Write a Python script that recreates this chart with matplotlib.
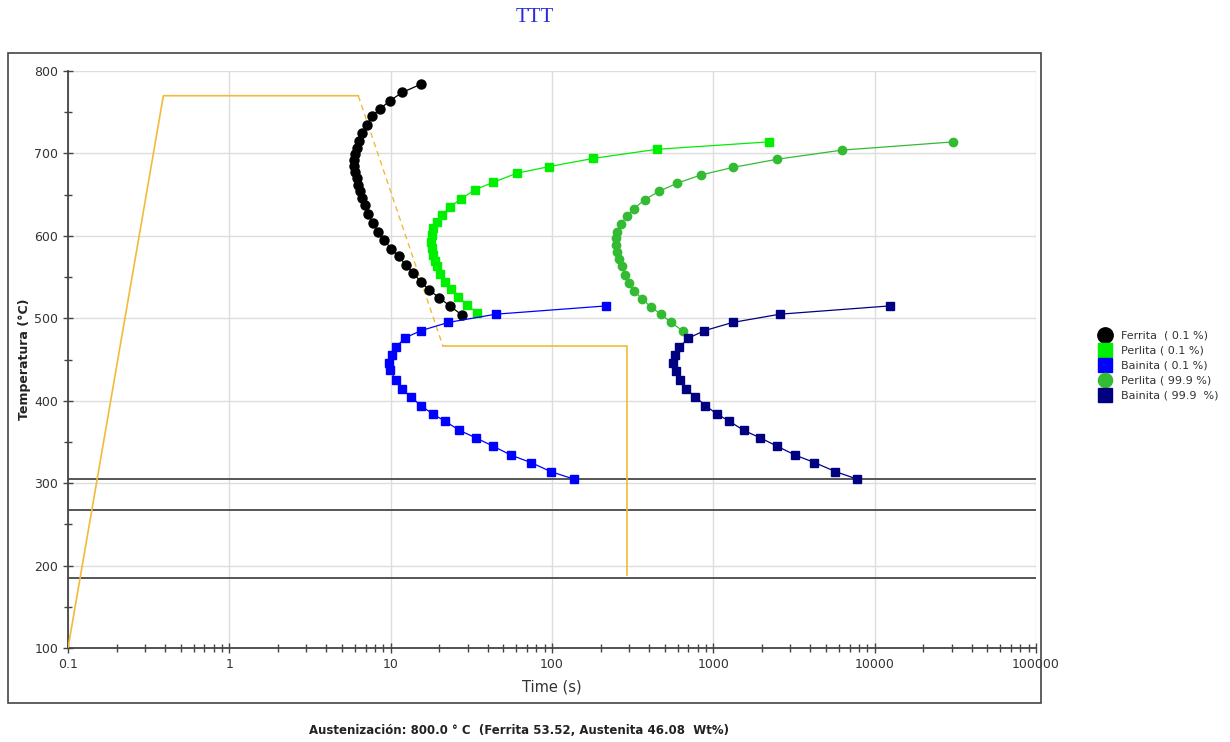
import matplotlib.pyplot as plt
from matplotlib.patches import Rectangle
from matplotlib.ticker import LogLocator, NullFormatter, MultipleLocator, FixedFormatter, FixedLocator

# --- transformation curves (time in s, temperature in C) ---
ferrita_t = [15.4, 11.8, 9.9, 8.59, 7.63, 7.11, 6.68, 6.37, 6.17, 6.02, 5.96, 5.96, 6.04, 6.17,
             6.28, 6.46, 6.68, 6.94, 7.27, 7.74, 8.39, 9.14, 10.06, 11.2, 12.4, 13.8, 15.4,
             17.4, 19.95, 23.3, 27.6]
ferrita_T = [784, 774, 764, 754, 745, 734, 725, 715, 707, 699, 692, 685, 678, 670,
             662, 654, 646, 637, 627, 615, 605, 595, 584, 575, 565, 555, 544,
             534, 525, 515, 504]

perlita01_t = [2198, 447, 180.6, 96, 60.5, 43.3, 33.4, 27.3, 23.3, 20.7, 19.3, 18.4, 18.0,
               17.8, 18.0, 18.2, 18.7, 19.3, 20.2, 21.7, 23.6, 26.3, 29.6, 34.2]
perlita01_T = [714, 705, 694, 684, 676, 665, 656, 645, 635, 625, 617, 609, 601,
               593, 585, 577, 570, 563, 554, 544, 535, 526, 516, 507]

bainita01_t = [216, 45, 22.8, 15.4, 12.2, 10.8, 10.2, 9.8, 9.9, 10.8, 11.7, 13.3, 15.4,
               18.2, 21.8, 26.7, 33.7, 43, 55.7, 74, 98.4, 136]
bainita01_T = [515, 505, 495, 485, 476, 465, 455, 446, 437, 425, 414, 405, 394,
               384, 375, 364, 355, 345, 334, 325, 314, 305]

perlita999_t = [30800, 6260, 2495, 1321, 843, 597, 461, 376, 323, 291, 267, 254, 249, 249,
                252, 261, 271, 284, 301, 323, 360, 409, 473, 547, 653]
perlita999_T = [714, 704, 693, 683, 674, 664, 654, 644, 633, 624, 614, 605, 597, 589,
                581, 572, 563, 553, 543, 533, 524, 514, 505, 495, 484]

bainita999_t = [12360, 2594, 1321, 881, 701, 617, 580, 566, 588, 622, 678, 771, 893,
                1052, 1259, 1545, 1950, 2476, 3215, 4236, 5715, 7760]
bainita999_T = [515, 505, 495, 485, 476, 465, 455, 446, 436, 425, 414, 405, 394,
                384, 375, 364, 355, 345, 334, 325, 314, 305]

# heat treatment path
path_t = [0.1, 0.39, 6.3]
path_T = [100, 770, 770]
path_dash_t = [6.3, 21.1]
path_dash_T = [770, 466]
path2_t = [21.1, 292, 292]
path2_T = [466, 466, 188]

# horizontal reference temperatures
ref_lines = [305, 268, 185]

fig = plt.figure(figsize=(12.3, 7.42), dpi=100)
ax = fig.add_axes([68 / 1230, 1 - 648 / 742, (1036 - 68) / 1230, (648 - 71) / 742])

# frame around the plot
fig.patches.append(Rectangle((8 / 1230, 1 - 703 / 742), (1041 - 8) / 1230, (703 - 53) / 742,
                             transform=fig.transFigure, fill=False, ec='#444444', lw=1.2))

for y in ref_lines:
    ax.axhline(y, color='#555555', lw=1.4, zorder=2)

yel = '#F2BA3A'
ax.plot(path_t, path_T, color=yel, lw=1.2, zorder=3)
ax.plot(path_dash_t, path_dash_T, color=yel, lw=1.0, ls=(0, (4, 3)), zorder=3)
ax.plot(path2_t, path2_T, color=yel, lw=1.2, zorder=3)

ax.plot(ferrita_t, ferrita_T, color='black', lw=0.9, marker='o', ms=6.5, zorder=5,
        label='Ferrita  ( 0.1 %)')
ax.plot(perlita01_t, perlita01_T, color='#00EE00', lw=0.9, marker='s', ms=6.2, zorder=5,
        label='Perlita ( 0.1 %)')
ax.plot(bainita01_t, bainita01_T, color='#0000FF', lw=0.9, marker='s', ms=6.2, zorder=5,
        label='Bainita ( 0.1 %)')
ax.plot(perlita999_t, perlita999_T, color='#33BB33', lw=0.9, marker='o', ms=6, zorder=5,
        label='Perlita ( 99.9 %)')
ax.plot(bainita999_t, bainita999_T, color='#000080', lw=0.9, marker='s', ms=6.2, zorder=5,
        label='Bainita ( 99.9  %)')

ax.set_xscale('log')
ax.set_xlim(0.1, 100000)
ax.set_ylim(100, 800)
ax.xaxis.set_major_locator(FixedLocator([0.1, 1, 10, 100, 1000, 10000, 100000]))
ax.xaxis.set_major_formatter(FixedFormatter(['0.1', '1', '10', '100', '1000', '10000', '100000']))
ax.xaxis.set_minor_locator(LogLocator(base=10, subs=range(2, 10)))
ax.xaxis.set_minor_formatter(NullFormatter())
ax.yaxis.set_major_locator(MultipleLocator(100))
ax.yaxis.set_minor_locator(MultipleLocator(50))

for s in ['top', 'right']:
    ax.spines[s].set_visible(False)
for s in ['left', 'bottom']:
    ax.spines[s].set_color('#444444')
    ax.spines[s].set_linewidth(1.3)
ax.grid(True, which='major', color='#DDDDDD', lw=1.0, zorder=0)
ax.tick_params(which='both', direction='inout', color='#444444', width=1.0,
               labelsize=9, labelcolor='#333333')
ax.tick_params(which='major', length=7)
ax.tick_params(which='minor', length=6)

ax.set_xlabel('Time (s)', fontsize=10.5, color='#333333', labelpad=6)
ax.set_ylabel('Temperatura (°C)', fontsize=9, fontweight='bold', color='#222222', labelpad=2)

fig.text(535 / 1230, 1 - 18 / 742, 'TTT', ha='center', va='center', fontsize=15,
         family='Liberation Serif', color='#2A2AE0')
fig.text(519 / 1230, 1 - 731 / 742,
         'Austenización: 800.0 ° C  (Ferrita 53.52, Austenita 46.08  Wt%)',
         ha='center', va='center', fontsize=8.5, fontweight='bold', color='#222222')

handles, labels = ax.get_legend_handles_labels()
leg = fig.legend(handles, labels, loc='upper left', bbox_to_anchor=(1094 / 1230, 1 - 325 / 742),
                 frameon=False, fontsize=8, handlelength=1.0, handletextpad=0.9,
                 labelspacing=0.45, borderpad=0, markerscale=1.7)
for line in leg.get_lines():
    line.set_linestyle('none')
for t in leg.get_texts():
    t.set_color('#333333')

fig.savefig('out.png', dpi=100)
